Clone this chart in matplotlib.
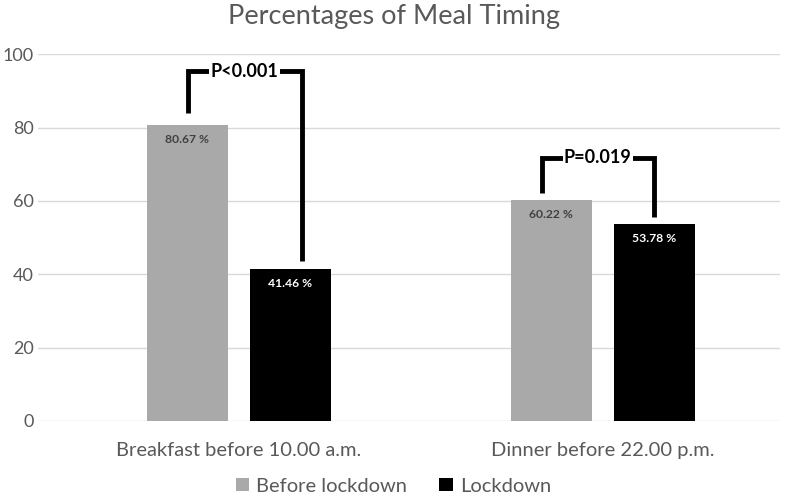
import numpy as np
import matplotlib.pyplot as plt

categories = ["Breakfast before 10.00 a.m.", "Dinner before 22.00 p.m."]
before = [80.67, 60.22]
lockdown = [41.46, 53.78]
p_labels = ["P<0.001", "P=0.019"]
series_names = ["Before lockdown", "Lockdown"]

GRAY = "#a9a9a9"
TXT = "#595959"

plt.rcParams['font.family'] = ['Lato', 'DejaVu Sans']

fig = plt.figure(figsize=(7.87, 4.97), dpi=100)
ax = fig.add_axes([0.048, 0.153, 0.943, 0.738])

x = np.arange(len(categories))
w = 0.2225
off = 0.1415
ax.bar(x - off, before, w, color=GRAY, label=series_names[0], zorder=3)
ax.bar(x + off, lockdown, w, color="black", label=series_names[1], zorder=3)

for i in range(len(categories)):
    ax.text(x[i] - off, before[i] - 4, f"{before[i]:.2f} %", ha="center", va="center",
            fontsize=8.7, fontweight="bold", color="#404040", zorder=4)
    ax.text(x[i] + off, lockdown[i] - 4, f"{lockdown[i]:.2f} %", ha="center", va="center",
            fontsize=8.7, fontweight="bold", color="white", zorder=4)

# significance brackets
brackets = [
    # xl, xr, y_left_bottom, y_top, y_right_bottom
    (-0.140, 0.173, 83.9, 95.4, 43.6),
    (1 - 0.168, 1 + 0.140, 62.1, 71.7, 55.6),
]
for (xl, xr, yl, yt, yr), lab in zip(brackets, p_labels):
    xm = (xl + xr) / 2
    ax.plot([xl, xl, xm], [yl, yt, yt], color="black", lw=3.5, zorder=5,
            solid_joinstyle="miter", solid_capstyle="butt")
    ax.plot([xm, xr, xr], [yt, yt, yr], color="black", lw=3.5, zorder=5,
            solid_joinstyle="miter", solid_capstyle="butt")
    ax.text(xm, yt, lab, ha="center", va="center", fontsize=13, fontweight="bold",
            color="black", zorder=6,
            bbox=dict(boxstyle="square,pad=0.08", fc="white", ec="none"))

ax.set_xlim(-0.552, 1.486)
ax.set_ylim(0, 100)
ax.set_yticks(np.arange(0, 101, 20))
ax.set_xticks(x)
ax.set_xticklabels(categories)
ax.tick_params(axis="both", length=0, labelsize=14.5, colors=TXT)
ax.tick_params(axis="y", labelsize=13, pad=3)
ax.tick_params(axis="x", pad=15)
ax.grid(axis="y", color="#d9d9d9", lw=1, zorder=0)
for s in ax.spines.values():
    s.set_visible(False)

fig.text(0.5, 0.966, "Percentages of Meal Timing", fontsize=19.5, color=TXT,
         ha="center", va="center")

fig.legend(loc="center", bbox_to_anchor=(0.5, 0.022), ncol=2, frameon=False,
           fontsize=14.5, labelcolor=TXT, handlelength=0.65, handleheight=0.65,
           handletextpad=0.35, columnspacing=1.6, borderpad=0)

fig.savefig("out.png", dpi=100)
